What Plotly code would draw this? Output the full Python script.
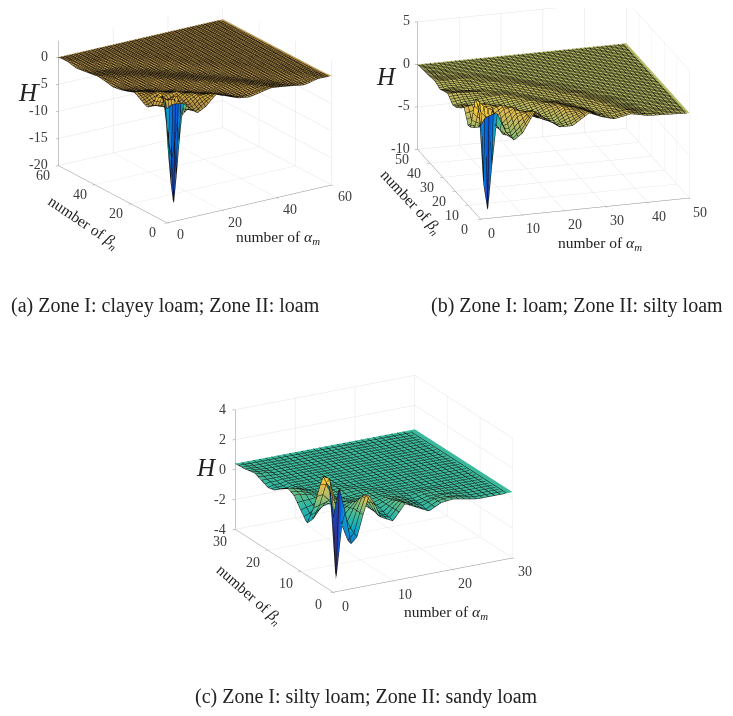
import math
import plotly.graph_objects as go

W, H = 733, 716
PAGE_MARGIN = 8

parula = [[0.0, "#352A87"], [0.1, "#0363E1"], [0.2, "#1485D4"], [0.3, "#06A7C6"], [0.4, "#38B99E"],
          [0.5, "#92BF73"], [0.6, "#D9BA56"], [0.7, "#FCCE2E"], [0.85, "#F5E61F"], [1.0, "#F9FB0E"]]
parula_a = [[0.0, "#352A87"], [0.1, "#0363E1"], [0.2, "#1485D4"], [0.3, "#06A7C6"], [0.4, "#38B99E"],
            [0.5, "#92BF73"], [0.62, "#B8944A"], [0.72, "#FCCE2E"], [0.85, "#F5E61F"], [1.0, "#F9FB0E"]]

captions = ["(a) Zone I: clayey loam; Zone II: loam",
            "(b) Zone I: loam; Zone II: silty loam",
            "(c) Zone I: silty loam; Zone II: sandy loam"]

# ---------- (a)
alpha_a = [0, 1, 2, 3, 4, 5, 6, 8, 11, 14, 18, 22, 26, 30, 34, 38, 44, 50, 55, 60]
beta_a = [0, 1, 2, 3, 4, 6, 8, 11, 14, 18, 22, 26, 30, 34, 38, 44, 50, 55, 60]
H_a = [
    [1, 1.5, 1.6, 1.6, 1.5, 1.4, 1.3, .3, -1, -.2, 1.7, .8, 0, -.3, .1, .5, .1, -.4, .2, .1],
    [1.9, -7, -13, -17, -12, -6, -1, -.2, -.9, .2, 1.6, .7, 0, -.2, .2, .5, 0, -.3, .2, .1],
    [2.5, -2, -6, -9, -6, -2, .5, -.4, -.7, .4, 1.4, .6, -.1, -.2, .2, .4, 0, -.3, .2, .1],
    [3, 1, -1, -2, -1, .5, 1.5, -.3, -.4, .8, 1.3, .4, -.1, -.1, .3, .4, -.1, -.2, .2, .05],
    [3.3, 2.5, 2, 1.5, 1.8, 2, 2, 0, -.1, 1.1, 1.1, .3, -.2, 0, .3, .3, -.1, -.1, .15, .05],
    [2.2, 2, 1.8, 1.5, 1, .5, .2, -.6, .6, 1.2, .7, .1, -.2, .2, .4, .2, -.2, 0, .1, 0],
    [.3, .1, -.1, -.3, -.5, -.6, -.7, -.4, 1.0, 1.0, .3, -.1, -.1, .3, .3, .1, -.2, .1, .05, 0],
    [-.6, -.6, -.4, -.2, 0, .3, .6, .9, 1.1, .5, 0, -.2, .1, .3, .2, -.1, -.1, .1, 0, 0],
    [0, .2, .4, .6, .8, .9, 1, .8, .4, 0, -.1, 0, .3, .2, 0, -.2, 0, .05, 0, 0],
    [.9, .9, .8, .7, .6, .5, .4, .1, -.1, -.1, .1, .3, .2, 0, -.2, -.1, .05, 0, 0, 0],
    [.4, .3, .2, .1, .1, 0, 0, -.1, -.1, .1, .3, .2, 0, -.2, -.2, 0, .05, 0, 0, 0],
    [0, -.1, -.1, -.1, -.1, -.1, -.1, 0, .1, .3, .2, 0, -.2, -.2, 0, .05, 0, 0, 0, 0],
    [-.2, -.1, -.1, 0, 0, 0, .1, .1, .2, .2, 0, -.2, -.3, 0, .05, 0, 0, 0, 0, 0],
    [.1, .1, .1, .2, .2, .2, .2, .2, .1, 0, -.2, -.3, -.1, .05, 0, 0, 0, 0, 0, 0],
    [.3, .3, .2, .2, .1, .1, .1, 0, -.1, -.2, -.3, -.1, .05, 0, 0, 0, 0, 0, 0, 0],
    [0, -.1, -.1, -.1, -.2, -.2, -.3, -.3, -.3, -.2, 0, .05, 0, 0, 0, 0, 0, 0, 0, 0],
    [-.3, -.2, -.1, -.1, 0, 0, .05, .05, .05, 0, 0, 0, 0, 0, 0, 0, 0, 0, 0, 0],
    [.1, .1, .05, .05, 0, 0, 0, 0, 0, 0, 0, 0, 0, 0, 0, 0, 0, 0, 0, 0],
    [0, 0, 0, 0, 0, 0, 0, 0, 0, 0, 0, 0, 0, 0, 0, 0, 0, 0, 0, 0],
]
# colour of the two front rows, where the faceted spike shows its low colour up to its rim
color_a_rows = [
    [-6, -13, -14, -15, -14, -13, -7, .3, -1, -.2, 1.7, .8, 0, -.3, .1, .5, .1, -.4, .2, .1],
    [-12, -7, -13, -17, -12, -6, -4, -.2, -.9, .2, 1.6, .7, 0, -.2, .2, .5, 0, -.3, .2, .1],
]
ticks_a_xy = [0, 20, 40, 60]
ticks_a_z = [-20, -15, -10, -5, 0]

# ---------- (b)
alpha_b = [0, 1, 2, 3, 4, 6, 8, 10, 13, 16, 19, 22, 26, 29, 32, 36, 40, 45, 50]
beta_b = [0, 1, 2, 3, 4, 6, 8, 10, 13, 16, 19, 22, 26, 29, 32, 36, 40, 45, 50]
H_b = [
    [1, 1.8, 2, 2.2, 2.2, 0, -1.1, -.4, 2, .9, -.1, -.1, 1.2, .6, .2, .6, .2, .1, 0],
    [2.2, -6, -9.2, -4, .5, -.4, -1.1, -.2, 1.9, .8, -.2, 0, 1.2, .5, .2, .6, .2, .1, 0],
    [2.8, -.5, -3, -1, .8, -.7, -.9, 0, 1.8, .7, -.2, .1, 1.1, .5, .2, .6, .1, .1, 0],
    [3.2, 2, 1.5, 1.3, 1.5, -.6, -.7, .4, 1.6, .5, -.3, .3, 1, .4, .3, .6, .1, .1, 0],
    [3.5, 3, 2.5, 2.2, 2, -.2, -.4, .9, 1.4, .3, -.3, .5, .9, .3, .3, .5, .1, .05, 0],
    [1.5, 1, .6, .4, .1, -.5, .4, 1.3, 1, .1, -.1, .8, .7, .2, .4, .4, 0, .05, 0],
    [-.5, -.6, -.6, -.5, -.4, .3, 1.2, 1.4, .5, -.2, .2, .9, .5, .2, .5, .3, 0, .05, 0],
    [-.6, -.4, -.2, 0, .3, 1, 1.4, 1, .1, -.2, .5, .8, .3, .3, .5, .2, 0, 0, 0],
    [1, 1.1, 1.2, 1.3, 1.3, 1.1, .7, .3, -.1, .2, .6, .5, .2, .4, .4, .1, 0, 0, 0],
    [.9, .8, .7, .6, .5, .3, .1, -.1, .1, .5, .4, .2, .3, .4, .2, 0, 0, 0, 0],
    [0, -.1, -.1, -.1, -.1, -.1, 0, .1, .4, .4, .2, .2, .4, .3, .1, 0, 0, 0, 0],
    [-.2, -.1, 0, .1, .1, .2, .3, .4, .4, .2, .2, .3, .3, .1, 0, 0, 0, 0, 0],
    [.5, .5, .5, .5, .4, .4, .3, .2, .2, .2, .3, .3, .1, 0, 0, 0, 0, 0, 0],
    [.3, .3, .2, .2, .2, .1, .1, .2, .2, .3, .3, .1, 0, 0, 0, 0, 0, 0, 0],
    [0, 0, .1, .1, .1, .2, .2, .3, .3, .2, .1, 0, 0, 0, 0, 0, 0, 0, 0],
    [.3, .3, .3, .3, .3, .3, .2, .2, .1, .05, 0, 0, 0, 0, 0, 0, 0, 0, 0],
    [.2, .2, .1, .1, .1, .1, .05, .05, 0, 0, 0, 0, 0, 0, 0, 0, 0, 0, 0],
    [.1, .1, .05, 0, 0, 0, 0, 0, 0, 0, 0, 0, 0, 0, 0, 0, 0, 0, 0],
    [0, 0, 0, 0, 0, 0, 0, 0, 0, 0, 0, 0, 0, 0, 0, 0, 0, 0, 0],
]
color_b_rows = [
    [-5, -7, -8, -7, -4, 0, -1.1, -.4, 2, .9, -.1, -.1, 1.2, .6, .2, .6, .2, .1, 0],
    [-7, -6, -9.2, -4, -2, -.4, -1.1, -.2, 1.9, .8, -.2, 0, 1.2, .5, .2, .6, .2, .1, 0],
]
ticks_b_xy = [0, 10, 20, 30, 40, 50]
ticks_b_z = [-10, -5, 0, 5]

# ---------- (c)
alpha_c = [0, 1, 2, 3, 4, 5, 6, 7, 8, 10, 12, 14, 16, 18, 20, 24, 30]
beta_c = [0, 1, 2, 3, 4, 6, 8, 10, 12, 14, 16, 18, 20, 22, 24, 27, 30]
H_c = [
    [1.0, 2.9, 1.2, -1.0, -.6, .8, 2.0, 1.3, .4, 0, 1.0, .6, .2, .6, .7, .4, .4],
    [2.9, -3.4, .2, -.9, -.5, .8, 1.9, 1.3, .4, .1, 1.0, .6, .2, .6, .7, .4, .4],
    [3.0, 2.0, .9, -.5, -.3, .8, 1.7, 1.2, .5, .1, .9, .6, .3, .6, .6, .4, .4],
    [3.3, 3.1, 1.4, 0, 0, .8, 1.4, 1.1, .5, .2, .8, .6, .3, .5, .6, .4, .4],
    [2.6, 2.6, 1.6, .5, .3, .7, 1.1, .9, .5, .3, .7, .6, .3, .5, .5, .4, .4],
    [.8, .9, 1.0, .8, .6, .6, .7, .7, .5, .4, .6, .5, .4, .5, .5, .4, .4],
    [-.5, -.3, .2, .6, .8, .7, .5, .5, .5, .5, .5, .5, .4, .4, .4, .4, .4],
    [.1, .2, .3, .5, .7, .7, .5, .4, .4, .5, .5, .4, .4, .4, .4, .4, .4],
    [.8, .8, .7, .6, .5, .5, .5, .5, .5, .5, .4, .4, .4, .4, .4, .4, .4],
    [1.0, .9, .8, .6, .5, .4, .4, .5, .5, .4, .4, .4, .4, .4, .4, .4, .4],
    [.7, .6, .5, .5, .4, .4, .4, .4, .4, .4, .4, .4, .4, .4, .4, .4, .4],
    [.3, .3, .3, .4, .4, .4, .4, .4, .4, .4, .4, .4, .4, .4, .4, .4, .4],
    [.2, .3, .3, .4, .4, .4, .4, .4, .4, .4, .4, .4, .4, .4, .4, .4, .4],
    [.4, .4, .4, .4, .4, .4, .4, .4, .4, .4, .4, .4, .4, .4, .4, .4, .4],
    [.6, .5, .5, .4, .4, .4, .4, .4, .4, .4, .4, .4, .4, .4, .4, .4, .4],
    [.45, .45, .4, .4, .4, .4, .4, .4, .4, .4, .4, .4, .4, .4, .4, .4, .4],
    [.4, .4, .4, .4, .4, .4, .4, .4, .4, .4, .4, .4, .4, .4, .4, .4, .4],
]
color_c_rows = [
    [-2, -3.2, -1, -1.7, -1.1, .8, 2.8, 1.6, .4, 0, 1.0, .6, .2, .6, .7, .4, .4],
    [-3.2, -3.4, -1, -1.6, -1.0, .8, 2.6, 1.5, .4, .1, 1.0, .6, .2, .6, .7, .4, .4],
]
ticks_c_xy = [0, 10, 20, 30]
ticks_c_z = [-4, -2, 0, 2, 4]

SERIF = "Liberation Serif, Times New Roman, serif"
GRID = "#e4e4e4"
AXIS = "#8c8c8c"
TICK = "#3c3c3c"


def axis(vals, rng):
    return dict(range=rng, tickvals=vals, showticklabels=False, showgrid=True, gridcolor=GRID,
                gridwidth=1, showline=True, linecolor=AXIS, linewidth=1, zeroline=False,
                showbackground=False, showspikes=False, title=dict(text=""), ticks="outside", ticklen=3,
                tickcolor=AXIS)


def tick_notes(xy, z, maxv, zmin, xoff, yoff, zoff):
    def one(x, y, zv, text, off, anchor="center"):
        return dict(x=x, y=y, z=zv, text=text, showarrow=False, xanchor=anchor, yanchor="middle",
                    xshift=off[0], yshift=-off[1], font=dict(family=SERIF, size=14, color=TICK))
    out = [one(v, 0, zmin, str(v), xoff) for v in xy]
    out += [one(0, v, zmin, str(v), yoff) for v in xy]
    out += [one(0, maxv, v, str(v), zoff, "right") for v in z]
    return out


def scene(dom, xy, z, maxv, zrange, az, el, zasp, k, cz, xoff, yoff, zoff):
    a, e = math.radians(az), math.radians(el)
    dist = 1.5
    eye = dict(x=-dist * math.sin(a) * math.cos(e), y=-dist * math.cos(a) * math.cos(e), z=dist * math.sin(e) + cz)
    return dict(domain=dict(x=[dom[0] / W, dom[1] / W], y=[1 - dom[3] / H, 1 - dom[2] / H]),
                xaxis=axis(xy, [0, maxv]), yaxis=axis(xy, [0, maxv]), zaxis=axis(z, zrange),
                aspectmode="manual", aspectratio=dict(x=k, y=k, z=k * zasp), bgcolor="rgba(0,0,0,0)",
                annotations=tick_notes(xy, z, maxv, zrange[0], xoff, yoff, zoff),
                camera=dict(projection=dict(type="orthographic"), eye=eye,
                            center=dict(x=0, y=0, z=cz), up=dict(x=0, y=0, z=1)))


def surf(x, y, z, front, scale, cmin, cmax, maxv, sid):
    line = dict(show=True, start=0, end=maxv + 3, size=1, color="#120e0a", width=1, highlight=False)
    return go.Surface(x=x, y=y, z=z, surfacecolor=front + z[len(front):], colorscale=scale, cmin=cmin, cmax=cmax,
                      showscale=False, hoverinfo="skip", scene=sid,
                      lighting=dict(ambient=1, diffuse=0, specular=0, roughness=1, fresnel=0),
                      contours=dict(x=line, y=line, z=dict(show=False, highlight=False)))


fig = go.Figure()
fig.add_trace(surf(alpha_a, beta_a, H_a, color_a_rows, parula_a, -17, 10.4, 60, "scene"))
fig.add_trace(surf(alpha_b, beta_b, H_b, color_b_rows, parula, -9.2, 7.5, 50, "scene2"))
fig.add_trace(surf(alpha_c, beta_c, H_c, color_c_rows, parula, -3.4, 6, 30, "scene3"))


def note(text, x, y, size, angle=0, anchor="center"):
    return dict(text=text, x=(x - PAGE_MARGIN) / W, y=1 - (y - PAGE_MARGIN) / H, xref="paper", yref="paper",
                showarrow=False, xanchor=anchor, yanchor="middle", textangle=angle,
                font=dict(family=SERIF, size=size, color="#222222"))


ALPHA = "number of <i>α<sub>m</sub></i>"
BETA = "number of <i>β<sub>n</sub></i>"
notes = [
    note(captions[0], 9, 306, 20, anchor="left"),
    note(captions[1], 429, 306, 20, anchor="left"),
    note(captions[2], 193, 696, 20, anchor="left"),
    note(ALPHA, 278, 238, 15.5), note(ALPHA, 600, 243, 15.5), note(ALPHA, 446, 612, 15.5),
    note(BETA, 83, 222, 15.5, 34), note(BETA, 410, 202, 15.5, 47), note(BETA, 249, 594, 15.5, 41),
    note("<i>H</i>", 28, 93, 25), note("<i>H</i>", 386, 77, 25), note("<i>H</i>", 206, 467, 25),
]

fig.update_layout(
    width=W, height=H, margin=dict(l=0, r=0, t=0, b=0), paper_bgcolor="white", showlegend=False,
    annotations=notes,
    scene=scene((17, 357, 0, 290), ticks_a_xy, ticks_a_z, 60, [-20, 3], 33.5, 20.4, 0.675, 1.36, -0.295,
                (13, 12), (-15, 10), (-8, -1)),
    scene2=scene((366, 725, 0, 290), ticks_b_xy, ticks_b_z, 50, [-10, 5], 16.8, 19.5, 0.62, 1.505, -0.315,
                 (11, 14), (-16, 10), (-6, -1)),
    scene3=scene((196, 536, 360, 650), ticks_c_xy, ticks_c_z, 30, [-4, 4], 28.6, 20.5, 0.625, 1.41, -0.215,
                 (12, 14), (-15, 12), (-7, 0)),
)
fig.write_html("out.html")
